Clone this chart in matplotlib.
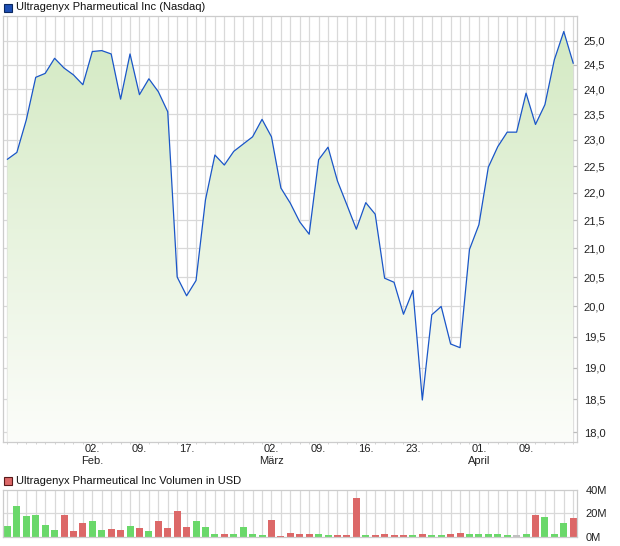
import numpy as np
import matplotlib
matplotlib.use('Agg')
import matplotlib.pyplot as plt
from matplotlib.patches import Polygon, Rectangle
from matplotlib.ticker import FixedLocator, NullLocator

plt.rcParams['font.family'] = ['Liberation Sans', 'DejaVu Sans']
plt.rcParams['font.size'] = 8

# closing prices, Jan 20 - Apr 16 (trading days)
close = [22.63, 22.76, 23.39, 24.24, 24.32, 24.63, 24.43, 24.29, 24.09, 24.77,
         24.79, 24.72, 23.80, 24.72, 23.89, 24.21, 23.95, 23.55, 20.50, 20.18,
         20.44, 21.87, 22.71, 22.52, 22.78, 22.92, 23.06, 23.40, 23.06, 22.09,
         21.81, 21.47, 21.25, 22.62, 22.86, 22.22, 21.78, 21.34, 21.82, 21.61,
         20.48, 20.41, 19.87, 20.27, 18.49, 19.86, 20.00, 19.38, 19.32, 20.98,
         21.42, 22.48, 22.87, 23.15, 23.15, 23.92, 23.30, 23.69, 24.60, 25.19,
         24.53]

# volume in million USD
volume = [9.6, 26.0, 17.8, 18.6, 10.4, 6.3, 18.6, 4.7, 12.0, 13.7,
          6.3, 7.1, 6.3, 9.6, 7.9, 4.7, 13.7, 7.9, 21.9, 8.8,
          13.7, 8.8, 2.2, 2.2, 2.2, 8.8, 2.2, 1.4, 14.5, 0.5,
          3.0, 2.2, 2.2, 2.2, 1.4, 1.4, 1.4, 32.6, 1.4, 1.4,
          2.2, 1.4, 1.4, 1.4, 2.2, 1.4, 1.4, 2.2, 3.0, 2.2,
          2.2, 2.2, 2.2, 1.4, 1.4, 2.2, 18.6, 17.0, 2.2, 12.0,
          16.2]

tick_days = [9, 14, 19, 28, 33, 38, 43, 50, 55]
tick_labels = ['02.\nFeb.', '09.', '17.', '02.\nMärz', '09.', '16.', '23.',
               '01.\nApril', '09.']
price_ticks = [18.0, 18.5, 19.0, 19.5, 20.0, 20.5, 21.0, 21.5, 22.0, 22.5,
               23.0, 23.5, 24.0, 24.5, 25.0]
vol_ticks = [0, 20, 40]

grid_c = '#d9d9d9'
line_c = '#1a56c8'
up_c, down_c, flat_c = '#6ad86a', '#dc6868', '#c0c0c0'

x = np.arange(len(close))
close = np.array(close)

fig = plt.figure(figsize=(6.2, 5.46), dpi=100)

# ---------- price panel ----------
ax = fig.add_axes([0.0044, 0.1905, 0.9262, 0.7802])
ax.set_yscale('log')
ymin, ymax = 17.85, 25.52
ax.set_xlim(-0.5, len(close) - 0.6)
ax.set_ylim(ymin, ymax)

# gradient fill under the line
grad = np.linspace(0, 1, 256).reshape(-1, 1)
top = np.array([210, 233, 193]) / 255
bot = np.array([252, 253, 250]) / 255
img = top + (bot - top) * grad[..., None]
img = img.reshape(256, 1, 3)
im = ax.imshow(img, extent=[0, 1, 0, 1], transform=ax.transAxes,
               aspect='auto', zorder=1, interpolation='bilinear')
verts = list(zip(x, close)) + [(x[-1], ymin), (x[0], ymin)]
poly = Polygon(verts, closed=True, facecolor='none', edgecolor='none')
ax.add_patch(poly)
im.set_clip_path(poly)

ax.plot(x, close, color=line_c, lw=0.9, zorder=3)

ax.yaxis.set_major_locator(FixedLocator(price_ticks))
ax.yaxis.set_minor_locator(NullLocator())
ax.set_yticklabels([f'{v:.1f}'.replace('.', ',') for v in price_ticks])
ax.yaxis.tick_right()
ax.tick_params(axis='y', which='major', direction='in', length=3,
               color='#bbbbbb', pad=5, labelsize=8, labelcolor='#222222')

ax.set_xticks(tick_days)
ax.set_xticklabels(tick_labels, linespacing=1.2)
ax.set_xticks(x, minor=True)
ax.tick_params(axis='x', which='both', direction='out', length=1.5,
               color='#cccccc', pad=0, labelsize=8, labelcolor='#222222')

for d in x:
    ax.axvline(d, color=grid_c, lw=0.9, zorder=0.5)
for v in price_ticks:
    ax.axhline(v, color=grid_c, lw=0.9, zorder=0.5)
for s in ax.spines.values():
    s.set_color('#cccccc')
    s.set_linewidth(0.9)

# title with legend square
fig.patches.append(Rectangle((4 / 620, 1 - 12 / 546), 8 / 620, 8 / 546,
                             transform=fig.transFigure, facecolor='#1e4fb4',
                             edgecolor='#0b2860', lw=0.8))
fig.text(16 / 620, 1 - 7.5 / 546, 'Ultragenyx Pharmeutical Inc (Nasdaq)',
         ha='left', va='center', fontsize=8, color='#111111')

# ---------- volume panel ----------
axv = fig.add_axes([0.0044, 0.0165, 0.9262, 0.0866])
axv.set_xlim(ax.get_xlim())
axv.set_ylim(0, 40)
diffs = np.diff(close, prepend=close[0] - 1)
colors = [up_c if d > 0 else (down_c if d < 0 else flat_c) for d in diffs]
axv.bar(x, volume, width=0.74, color=colors, zorder=2)
for d in x:
    axv.axvline(d, color=grid_c, lw=0.9, zorder=0.5)
axv.axhline(20, color=grid_c, lw=0.9, zorder=0.5)
axv.set_xticks([])
axv.yaxis.tick_right()
axv.set_yticks(vol_ticks)
axv.set_yticklabels([f'{v}M' for v in vol_ticks])
axv.tick_params(axis='y', length=0, pad=6, labelsize=8, labelcolor='#222222')
for s in axv.spines.values():
    s.set_color('#cccccc')
    s.set_linewidth(0.9)

fig.patches.append(Rectangle((4 / 620, 1 - 485 / 546), 8 / 620, 8 / 546,
                             transform=fig.transFigure, facecolor='#dc6868',
                             edgecolor='#5a1a1a', lw=0.8))
fig.text(16 / 620, 1 - 480.5 / 546, 'Ultragenyx Pharmeutical Inc Volumen in USD',
         ha='left', va='center', fontsize=8, color='#111111')

fig.savefig('out.png', dpi=100)
